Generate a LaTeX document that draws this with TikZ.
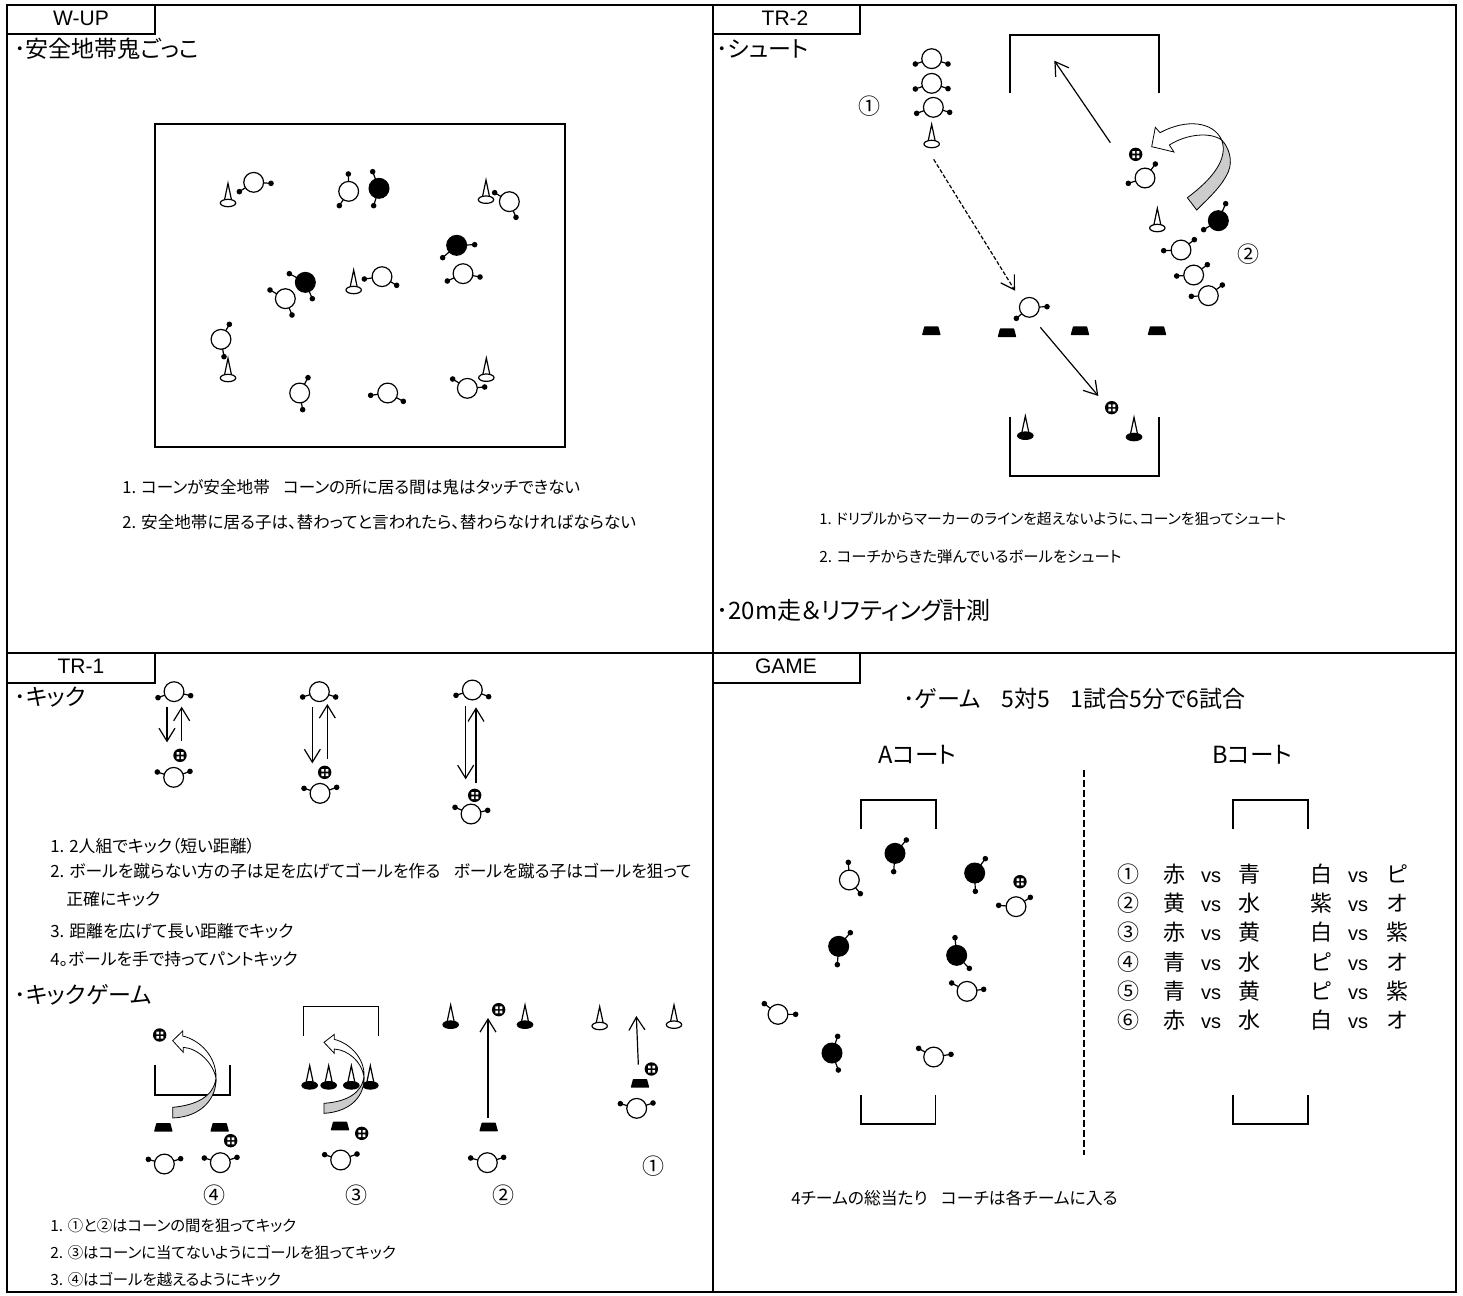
\documentclass[tikz,border=0pt]{standalone}
\usepackage{fontspec}
\usetikzlibrary{arrows.meta}
\newfontfamily\jp[RawFeature=+palt]{Noto Sans CJK JP}
\newfontfamily\lat{Liberation Sans}
\tikzset{
 frameline/.style={line width=.9pt,black},
 goalline/.style={line width=.8pt,black},
 bodyline/.style={line width=.6pt,black},
 arr/.style={line width=.6pt,-{Straight Barb[length=6.5pt,width=8pt,line width=.6pt]}},
 txt/.style={anchor=mid west,inner sep=0pt,font=\jp},
 ctr/.style={anchor=mid,inner sep=0pt,font=\jp},
 zoomed/.style={x=0.166667pt,y=-0.166667pt},
}
\newcommand{\fsz}[1]{\fontsize{#1}{#1}\selectfont}
% player: centre, hand 1, hand 2, fill
\newcommand{\myplayer}[4]{%
 \draw[bodyline] (#2) -- (#1) -- (#3);
 \fill[black] (#2) circle[radius=1.4pt] (#3) circle[radius=1.4pt];
 \draw[bodyline,fill=#4] (#1) circle[radius=4.95pt];}
\newcommand{\wpl}[3]{\myplayer{#1}{#2}{#3}{white}}
\newcommand{\bpl}[3]{\myplayer{#1}{#2}{#3}{black}}
% cone: x, apex y, base y, fill
\newcommand{\mycone}[4]{%
 \draw[bodyline] (#1-12,#3-2) -- (#1,#2) -- (#1+12,#3-2);
 \draw[bodyline,fill=#4] (#1,#3) ellipse[x radius=3.85pt,y radius=1.85pt];}
\newcommand{\myball}[2]{%
 \fill[black] (#1,#2) circle[radius=3.35pt];
 \fill[white] (#1-10,#2-10) rectangle +(8,8) (#1+3,#2-10) rectangle +(8,8) (#1-10,#2+3) rectangle +(8,8) (#1+3,#2+3) rectangle +(8,8);}
\newcommand{\mymark}[2]{%
 \fill[black,rounded corners=.3pt] (#1-28,#2+13) -- (#1-21,#2-13) -- (#1+21,#2-13) -- (#1+28,#2+13) -- cycle;}
\newcommand{\mygoal}[4]{\draw[goalline] (#1,#3) -- (#1,#4) -- (#2,#4) -- (#2,#3);}
\begin{document}
\begin{tikzpicture}[x=.5pt,y=-.5pt]
\useasboundingbox (0,0) rectangle (1463,1296);
\fill[white] (0,0) rectangle (1463,1296);
% frames
\draw[frameline] (7,5) rectangle (1456,1292);
\draw[frameline] (713,5) -- (713,1292);
\draw[frameline] (7,653) -- (1456,653);
\draw[frameline] (155,5) -- (155,34) -- (7,34);
\draw[frameline] (860,5) -- (860,34) -- (713,34);
\draw[frameline] (155,653) -- (155,683) -- (7,683);
\draw[frameline] (860,653) -- (860,683) -- (713,683);
% tabs
\node[ctr,font=\lat\fsz{10.5}] (tabw) at (81,21) {W-UP};
\node[ctr,font=\lat\fsz{10.5}] (tab2) at (785,21) {TR-2};
\node[ctr,font=\lat\fsz{10.5}] (tab1) at (81,669) {TR-1};
\node[ctr,font=\lat\fsz{10.5}] (tabg) at (786,669) {GAME};
% W-UP
\draw[line width=.7pt] (155,124) rectangle (565,447);
\node[txt,font=\jp\fsz{11.5}] (t1) at (14,53) {･安全地帯鬼ごっこ};
\node[txt,font=\jp\fsz{8.3}] (t2) at (122,489) {1. コーンが安全地帯\hspace{.8em}コーンの所に居る間は鬼はタッチできない};
\node[txt,font=\jp\fsz{8.3}] (t3) at (122,524) {2. 安全地帯に居る子は、替わってと言われたら、替わらなければならない};
\begin{scope}[shift={(190,160)},zoomed]
 \mycone{114}{70}{129}{white}\mycone{888}{60}{119}{white}\mycone{491}{330}{390}{white}\mycone{114}{595}{654}{white}\mycone{889}{594}{653}{white}
 \wpl{191,67}{148,95}{243,70}
 \wpl{476,94}{475,42}{448,137}
 \bpl{567,85}{548,35}{551,137}
 \wpl{958,125}{914,98}{978,172}
 \bpl{800,256}{854,254}{758,293}
 \wpl{819,341}{772,363}{870,351}
 \wpl{576,350}{523,357}{620,376}
 \bpl{346,367}{298,341}{367,416}
 \wpl{286,416}{240,390}{306,465}
 \wpl{93,538}{118,493}{102,590}
 \wpl{329,699}{354,653}{338,749}
 \wpl{593,699}{542,706}{640,724}
 \wpl{832,685}{788,657}{884,681}
\end{scope}
% TR-2
\node[txt,font=\jp\fsz{11.5}] (s1) at (716,53) {･シュート};
\node[ctr,font=\jp\fsz{11}] (s2) at (869,110) {①};
\node[ctr,font=\jp\fsz{11}] (s3) at (1248,258) {②};
\node[txt,font=\jp\fsz{7.4}] (s4) at (819,520) {1. ドリブルからマーカーのラインを超えないように、コーンを狙ってシュート};
\node[txt,font=\jp\fsz{7.7}] (s5) at (819,558) {2. コーチからきた弾んでいるボールをシュート};
\node[txt,font=\jp\fsz{12}] (s6) at (716,615) {･20m走＆リフティング計測};
\begin{scope}[shift={(900,30)},zoomed]
 \mygoal{330}{777}{190}{15}
 \wpl{95,86}{46,102}{144,102}
 \wpl{95,160}{46,177}{144,176}
 \wpl{100,232}{50,250}{149,247}
 \mycone{95}{283}{342}{white}
 \coordinate (a1s) at (631,338); \coordinate (a1e) at (463,92);
 \draw[arr] (a1s) -- (a1e);
 \coordinate (a2s) at (101,388); \coordinate (a2e) at (345,782);
 \draw[arr,dash pattern=on 2pt off 1pt] (a2s) -- (a2e);
 \myball{707}{373}
 \wpl{735,444}{685,460}{766,402}
 \draw[bodyline,line width=.4pt,fill=black!20] (862,503) .. controls (940,445) and (985,385) .. (965,330) .. controls (985,350) and (1000,390) .. (985,425) .. controls (965,470) and (925,505) .. (890,540) -- cycle;
 \draw[bodyline,line width=.4pt,fill=white] (965,330) .. controls (940,275) and (860,265) .. (780,308) -- (766,292) -- (755,350) -- (822,366) -- (808,345) .. controls (860,312) and (930,305) .. (965,330) -- cycle;
 \mycone{772}{535}{594}{white}
 \bpl{955,572}{977,521}{911,599}
 \wpl{843,660}{791,662}{883,629}
 \wpl{881,735}{830,738}{922,704}
 \wpl{925,797}{874,799}{967,765}
 \wpl{388,832}{349,865}{441,830}
 \mymark{94}{902}\mymark{321}{908}\mymark{540}{902}\mymark{771}{902}
\end{scope}
\begin{scope}[shift={(900,290)},zoomed]
 \coordinate (a3s) at (421,112); \coordinate (a3e) at (595,318);
 \draw[arr] (a3s) -- (a3e);
 \myball{635}{353}
 \mycone{376}{378}{437}{black}\mycone{702}{382}{441}{black}
 \mygoal{330}{777}{380}{558}
\end{scope}
% TR-1
\node[txt,font=\jp\fsz{11.5}] (k1) at (14,701) {･キック};
\node[txt,font=\jp\fsz{8.4}] (k2) at (50,848) {1. 2人組でキック（短い距離）};
\node[txt,font=\jp\fsz{8.4}] (k3) at (50,873) {2. ボールを蹴らない方の子は足を広げてゴールを作る\hspace{.8em}ボールを蹴る子はゴールを狙って};
\node[txt,font=\jp\fsz{8.4}] (k4) at (66,901) {正確にキック};
\node[txt,font=\jp\fsz{8.4}] (k5) at (50,933) {3. 距離を広げて長い距離でキック};
\node[txt,font=\jp\fsz{8.4}] (k6) at (50,961) {4。ボールを手で持ってパントキック};
\node[txt,font=\jp\fsz{11.5}] (k7) at (14,999) {･キックゲーム};
\node[txt,font=\jp\fsz{7.7}] (k8) at (50,1227) {1. ①と②はコーンの間を狙ってキック};
\node[txt,font=\jp\fsz{7.7}] (k9) at (50,1254) {2. ③はコーンに当てないようにゴールを狙ってキック};
\node[txt,font=\jp\fsz{7.7}] (k10) at (50,1281) {3. ④はゴールを越えるようにキック};
\node[ctr,font=\jp\fsz{11}] (n4) at (214,1199) {④};
\node[ctr,font=\jp\fsz{11}] (n3) at (356,1199) {③};
\node[ctr,font=\jp\fsz{11}] (n2) at (503,1199) {②};
\node[ctr,font=\jp\fsz{11}] (n1) at (653,1170) {①};
\begin{scope}[shift={(130,670)},zoomed]
 \wpl{132,65}{84,83}{182,77}
 \draw[arr] (111,112) -- (111,217);
 \draw[arr] (155,213) -- (155,110);
 \myball{150}{256}
 \wpl{131,322}{82,306}{180,304}
 \wpl{568,65}{518,81}{617,81}
 \draw[arr] (547,112) -- (547,280);
 \draw[arr] (592,266) -- (592,102);
 \myball{584}{307}
 \wpl{570,370}{522,355}{620,352}
 \wpl{1027,60}{978,76}{1076,80}
 \draw[arr] (1007,108) -- (1007,328);
 \draw[arr] (1038,340) -- (1038,112);
 \myball{1034}{376}
 \wpl{1023,432}{975,412}{1073,421}
\end{scope}
\begin{scope}[shift={(100,990)},zoomed]
 \myball{179}{135}
 \mygoal{165}{390}{225}{315}
 \draw[bodyline,line width=.4pt,fill=black!20] (218,352) .. controls (290,345) and (340,320) .. (348,265) .. controls (350,320) and (310,380) .. (218,384) -- cycle;
 \draw[bodyline,line width=.4pt,fill=white] (348,265) .. controls (350,200) and (300,150) .. (248,138) -- (248,123) -- (218,152) -- (250,187) -- (250,172) .. controls (295,175) and (340,220) .. (348,265) -- cycle;
 \mymark{190}{412}\mymark{359}{412}
 \myball{392}{452}
 \wpl{193,522}{145,508}{242,506}
 \wpl{361,518}{313,504}{411,502}
 \mygoal{611}{835}{138}{50}
 \mycone{629}{227}{286}{black}\mycone{686}{227}{286}{black}\mycone{754}{227}{286}{black}\mycone{811}{227}{286}{black}
 \draw[bodyline,line width=.4pt,fill=black!20] (672,340) .. controls (740,335) and (785,310) .. (792,260) .. controls (795,315) and (755,365) .. (672,370) -- cycle;
 \draw[bodyline,line width=.4pt,fill=white] (792,260) .. controls (795,205) and (750,160) .. (703,148) -- (703,133) -- (672,157) -- (703,190) -- (703,177) .. controls (745,180) and (785,215) .. (792,260) -- cycle;
 \mymark{720}{408}
 \myball{785}{430}
 \wpl{722,510}{674,494}{771,492}
\end{scope}
\begin{scope}[shift={(420,990)},zoomed]
 \mycone{92}{45}{104}{black}\mycone{315}{45}{104}{black}
 \myball{236}{59}
 \draw[arr] (204,384) -- (204,84);
 \mymark{206}{411}
 \wpl{202,518}{152,504}{251,502}
 \mycone{539}{50}{108}{white}\mycone{762}{45}{104}{white}
 \draw[arr] (655,224) -- (649,78);
 \myball{694}{237}
 \mymark{660}{280}
 \wpl{650,355}{601,341}{699,339}
\end{scope}
% GAME
\node[txt,font=\jp\fsz{11.5}] (g1) at (903,703) {･ゲーム\hspace{.9em}5対5\hspace{.9em}1試合5分で6試合};
\node[txt,font=\jp\fsz{11.8}] (g2) at (878,759) {Aコート};
\node[txt,font=\jp\fsz{11.8}] (g3) at (1212,759) {Bコート};
\node[txt,font=\jp\fsz{8.4}] (g4) at (791,1200) {4チームの総当たり\hspace{.8em}コーチは各チームに入る};
\coordinate (ds) at (1084,770); \coordinate (de) at (1084,1155);
\draw[line width=.6pt,dash pattern=on 3.5pt off 1.5pt] (ds) -- (de);
\begin{scope}[shift={(750,790)},zoomed]
 \mygoal{333}{558}{118}{30}
 \mygoal{333}{557}{915}{1002}
 \bpl{435,190}{469,150}{431,245}
 \wpl{298,270}{295,217}{331,311}
 \bpl{674,249}{706,206}{676,304}
 \myball{810}{275}
 \wpl{798,350}{746,346}{841,322}
 \bpl{266,469}{301,428}{262,524}
 \bpl{620,496}{615,443}{658,535}
 \wpl{651,604}{605,579}{701,598}
 \wpl{84,673}{43,641}{137,673}
 \bpl{246,789}{263,739}{265,840}
 \wpl{551,801}{506,775}{603,793}
\end{scope}
\mygoal{1233}{1308}{829}{800}
\mygoal{1233}{1308}{1095}{1124}
\foreach \xc/\xa/\xb/\xd/\xe/\yy in {①/赤/青/白/ピ/878,②/黄/水/紫/オ/907,③/赤/黄/白/紫/936,④/青/水/ピ/オ/966,⑤/青/黄/ピ/紫/995,⑥/赤/水/白/オ/1024}{
 \node[ctr,font=\jp\fsz{11}] (r\yy c) at (1128,\yy) {\xc};
 \node[ctr,font=\jp\fsz{11}] (r\yy a) at (1174,\yy) {\xa};
 \node[ctr,font=\lat\fsz{10}] (r\yy v) at (1211,\yy) {vs};
 \node[ctr,font=\jp\fsz{11}] (r\yy b) at (1249,\yy) {\xb};
 \node[ctr,font=\jp\fsz{11}] (r\yy d) at (1321,\yy) {\xd};
 \node[ctr,font=\lat\fsz{10}] (r\yy w) at (1358,\yy) {vs};
 \node[ctr,font=\jp\fsz{11}] (r\yy e) at (1397,\yy) {\xe};
}
\end{tikzpicture}
\end{document}
